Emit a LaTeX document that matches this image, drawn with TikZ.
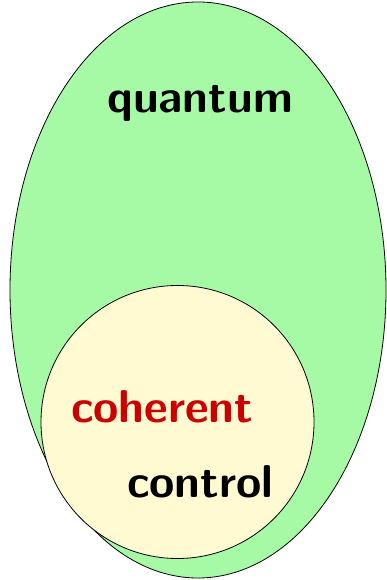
\documentclass[tikz,border=0pt]{standalone}
\usetikzlibrary{shapes.geometric}
\definecolor{qgreen}{RGB}{166,250,166}
\definecolor{cyellow}{RGB}{255,250,210}
\definecolor{cred}{RGB}{204,0,0}
\begin{document}
\begin{tikzpicture}[x=1pt,y=1pt,
  region/.style={draw=black,line width=0.8pt,inner sep=0pt},
  lbl/.style={font=\sffamily\bfseries\fontsize{46}{50}\selectfont,anchor=base west,inner sep=0pt}]
\useasboundingbox (0,0) rectangle (387,580);
\node[region,ellipse,fill=qgreen,minimum width=376pt,minimum height=576pt] (quantum) at (198,290) {};
\node[region,circle,fill=cyellow,minimum size=273pt] (coherent) at (177.5,158) {};
\node[lbl] (tq) at (107,467) {quantum};
\node[lbl,text=cred] (tc) at (71,157) {coherent};
\node[lbl] (tk) at (127,82) {control};
\end{tikzpicture}
\end{document}
